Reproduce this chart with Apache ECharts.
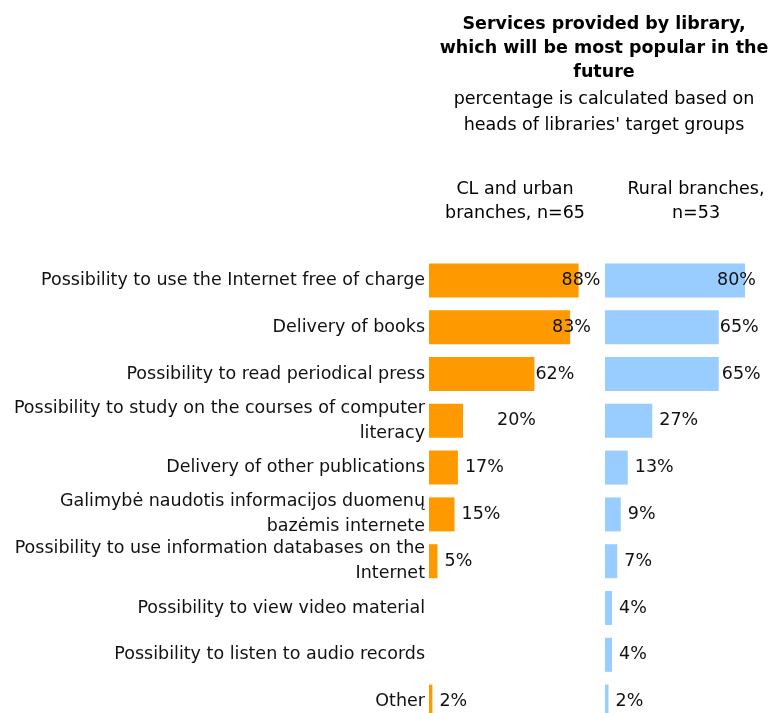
<!DOCTYPE html>
<html>
<head>
<meta charset="utf-8">
<script src="https://cdn.jsdelivr.net/npm/echarts@6/dist/echarts.min.js"></script>
<style>
  html, body { margin: 0; padding: 0; background: #fff; overflow: hidden; }
  #chart { width: 790px; height: 730px; }
</style>
</head>
<body>
<div id="chart"></div>
<script>
// Services expected to be most popular in the future, by branch type
const categories = [
  'Possibility to use the Internet free of charge',
  'Delivery of books',
  'Possibility to read periodical press',
  'Possibility to study on the courses of computer\nliteracy',
  'Delivery of other publications',
  'Galimybė naudotis informacijos duomenų\nbazėmis internete',
  'Possibility to use information databases on the\nInternet',
  'Possibility to view video material',
  'Possibility to listen to audio records',
  'Other'
];
const urbanValues = [88, 83, 62, 20, 17, 15, 5, null, null, 2];
const ruralValues = [80, 65, 65, 27, 13, 9, 7, 4, 4, 2];
const urbanHeader = 'CL and urban\nbranches, n=65';
const ruralHeader = 'Rural branches,\nn=53';

// horizontal nudges for value labels that sit over or far from their bar end
const urbanLabelNudge = [-24, -25, -6, 27, 0, 0, 0, 0, 0, 0];
const ruralLabelNudge = [-35, -6, -4, 0, 0, 0, 0, 0, 0, 0];

const FONT = 'DejaVu Sans';
const FS = 17.5;
const ORANGE = '#FF9900';
const BLUE = '#99CCFF';

function seriesData(values, nudges) {
  return values.map((v, i) => ({
    value: v,
    label: { offset: [nudges[i], 0] }
  }));
}

const gridTop = 257;
const gridHeight = 468;

const chart = echarts.init(document.getElementById('chart'), null, { renderer: 'canvas' });

chart.setOption({
  backgroundColor: '#ffffff',
  animation: false,
  title: [
    {
      text: 'Services provided by library,\nwhich will be most popular in the\nfuture',
      subtext: "percentage is calculated based on\nheads of libraries' target groups",
      left: 604,
      top: 12,
      padding: 0,
      textAlign: 'center',
      itemGap: 3,
      textStyle: { fontFamily: FONT, fontSize: FS, fontWeight: 'bold', color: '#000', lineHeight: 24 },
      subtextStyle: { fontFamily: FONT, fontSize: FS, color: '#000', lineHeight: 25.5 }
    },
    {
      text: urbanHeader,
      left: 515,
      top: 177,
      padding: 0,
      textAlign: 'center',
      textStyle: { fontFamily: FONT, fontSize: FS, fontWeight: 'normal', color: '#000', lineHeight: 24 }
    },
    {
      text: ruralHeader,
      left: 696,
      top: 177,
      padding: 0,
      textAlign: 'center',
      textStyle: { fontFamily: FONT, fontSize: FS, fontWeight: 'normal', color: '#000', lineHeight: 24 }
    }
  ],
  grid: [
    { left: 429, top: gridTop, width: 170, height: gridHeight, containLabel: false },
    { left: 605, top: gridTop, width: 175, height: gridHeight, containLabel: false }
  ],
  xAxis: [
    { type: 'value', gridIndex: 0, min: 0, max: 100, show: false },
    { type: 'value', gridIndex: 1, min: 0, max: 100, show: false }
  ],
  yAxis: [
    {
      type: 'category', gridIndex: 0, data: categories, inverse: true,
      axisLine: { show: false }, axisTick: { show: false },
      axisLabel: {
        margin: 4, fontFamily: FONT, fontSize: FS, color: '#111', lineHeight: 25, align: 'right'
      }
    },
    {
      type: 'category', gridIndex: 1, data: categories, inverse: true,
      axisLine: { show: false }, axisTick: { show: false }, axisLabel: { show: false }
    }
  ],
  series: [
    {
      type: 'bar', xAxisIndex: 0, yAxisIndex: 0,
      data: seriesData(urbanValues, urbanLabelNudge),
      barWidth: 34,
      itemStyle: { color: ORANGE },
      label: {
        show: true, position: 'right', distance: 7,
        fontFamily: FONT, fontSize: FS, color: '#111',
        formatter: p => p.value == null ? '' : p.value + '%'
      }
    },
    {
      type: 'bar', xAxisIndex: 1, yAxisIndex: 1,
      data: seriesData(ruralValues, ruralLabelNudge),
      barWidth: 34,
      itemStyle: { color: BLUE },
      label: {
        show: true, position: 'right', distance: 7,
        fontFamily: FONT, fontSize: FS, color: '#111',
        formatter: p => p.value == null ? '' : p.value + '%'
      }
    }
  ]
});
</script>
</body>
</html>
